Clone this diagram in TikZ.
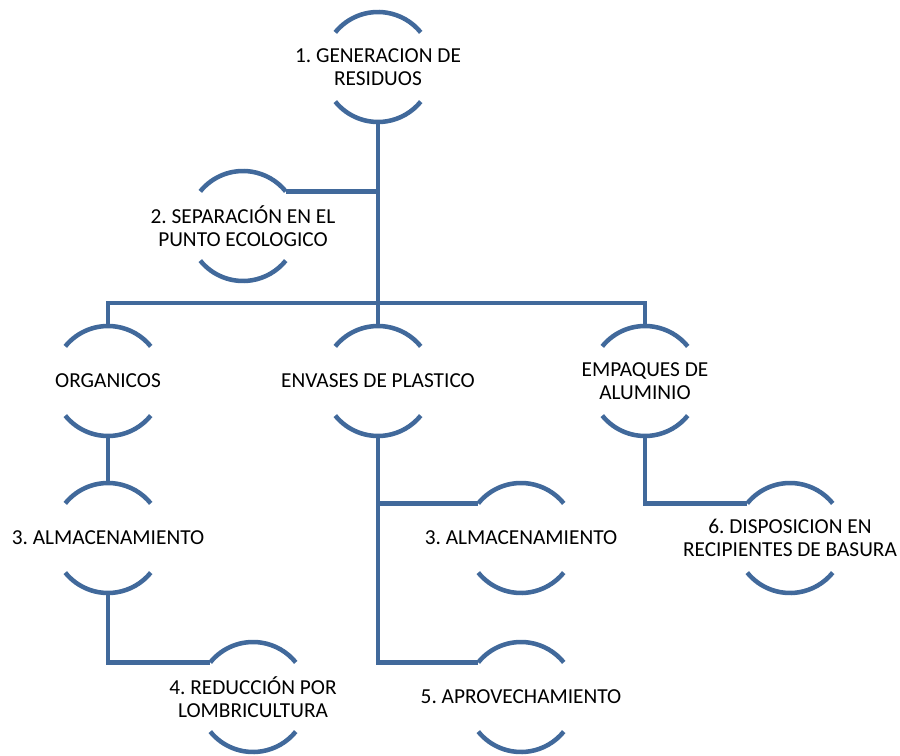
\documentclass[tikz,border=0pt]{standalone}
\usepackage{fontspec}
\setmainfont{Carlito}
\frenchspacing
\definecolor{ringblue}{RGB}{65,105,155}
\tikzset{
  ring/.style={circle, minimum size=82.5pt, inner sep=0pt, outer sep=0pt},
  arcline/.style={draw=ringblue, line width=3.4pt},
  link/.style={draw=ringblue, line width=3.4pt, line join=miter},
  txt/.style={align=center, font=\fontsize{16}{17.5}\selectfont, inner sep=0pt}
}
\begin{document}
\begin{tikzpicture}[x=0.75pt, y=0.75pt]
    \useasboundingbox (0,0) rectangle (900,-756);

    % circles (only the top and bottom arcs are drawn)
    \node[ring] (gen)  at (378,-67)  {};
    \node[ring] (sep)  at (243,-226) {};
    \node[ring] (org)  at (108,-381) {};
    \node[ring] (pla)  at (378,-381) {};
    \node[ring] (alu)  at (645,-381) {};
    \node[ring] (alm1) at (108,-538) {};
    \node[ring] (red)  at (253,-697) {};
    \node[ring] (alm2) at (521,-538) {};
    \node[ring] (apr)  at (521,-697) {};
    \node[ring] (dis)  at (790,-538) {};

    \foreach \n in {gen,sep,org,pla,alu,alm1,red,alm2,apr,dis} {
        \draw[arcline] (\n.141) arc[start angle=141, end angle=39, radius=55];
        \draw[arcline] (\n.-141) arc[start angle=-141, end angle=-39, radius=55];
    }

    % texts
    \node[txt] (gen-t)  at (gen)  {1. GENERACION DE\\RESIDUOS};
    \node[txt] (sep-t)  at (sep)  {2. SEPARACIÓN EN EL\\PUNTO ECOLOGICO};
    \node[txt] (org-t)  at (org)  {ORGANICOS};
    \node[txt] (pla-t)  at (pla)  {ENVASES DE PLASTICO};
    \node[txt] (alu-t)  at (alu)  {EMPAQUES DE\\ALUMINIO};
    \node[txt] (alm1-t) at (alm1) {3. ALMACENAMIENTO};
    \node[txt] (red-t)  at (red)  {4. REDUCCIÓN POR\\LOMBRICULTURA};
    \node[txt] (alm2-t) at (alm2) {3. ALMACENAMIENTO};
    \node[txt] (apr-t)  at (apr)  {5. APROVECHAMIENTO};
    \node[txt] (dis-t)  at (dis)  {6. DISPOSICION EN\\RECIPIENTES DE BASURA};

    % connectors
    \coordinate (bar) at (378,-303);
    \draw[link] (gen.south) -- (pla.north);
    \draw[link] (sep.39) -- (sep.39 -| gen.south);
    \draw[link] (org.north) |- (bar) -| (alu.north);
    \draw[link] (org.south) -- (alm1.north);
    \draw[link] (alm1.south) |- (red.141);
    \draw[link] (pla.south) |- (apr.141);
    \draw[link] (pla.south |- alm2.141) -- (alm2.141);
    \draw[link] (alu.south) |- (dis.141);
\end{tikzpicture}
\end{document}
